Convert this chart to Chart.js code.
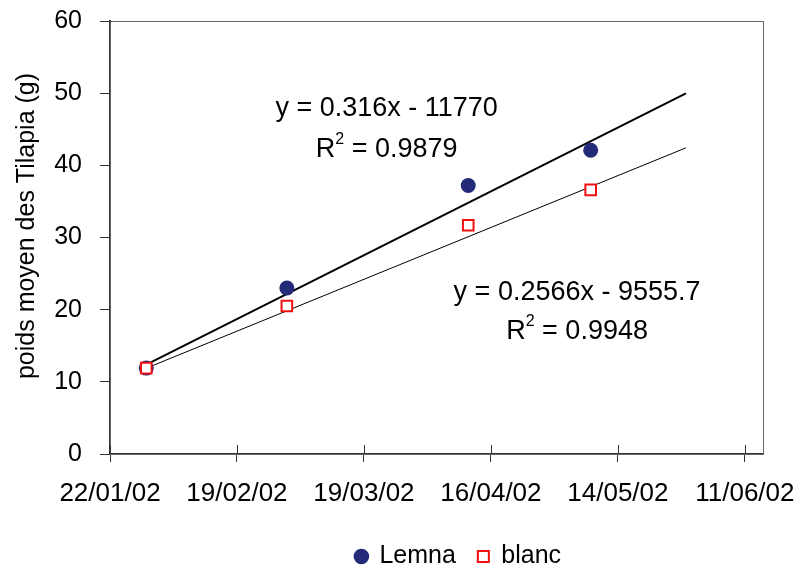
<!DOCTYPE html>
<html>
<head>
<meta charset="utf-8">
<script src="https://cdn.jsdelivr.net/npm/chart.js@4"></script>
<style>
  html, body { margin: 0; padding: 0; background: #fff; }
  #wrap { width: 802px; height: 568px; }
</style>
</head>
<body>
<div id="wrap"><canvas id="chart" width="802" height="568"></canvas></div>
<script>
// dates of the weighings (dd/mm/yy)
const dates = ['30/01/02', '02/03/02', '11/04/02', '08/05/02'];
const lemna = [11.9, 23.0, 37.2, 42.1];
const blanc = [11.9, 20.5, 31.7, 36.6];

// excel trendlines as shown on the picture
const lemnaTrend = { slope: 0.316, intercept: -11770, r2: '0.9879' };
const blancTrend = { slope: 0.2566, intercept: -9555.7, r2: '0.9948' };
const trendFrom = '30/01/02';
const trendTo = '29/05/02';

const tickLabels = ['22/01/02', '19/02/02', '19/03/02', '16/04/02', '14/05/02', '11/06/02'];
const xMin = '22/01/02';
const xMax = '15/06/02';

const FONT = '"Liberation Sans", Arial, sans-serif';

// dd/mm/yy -> excel serial number (what the trendline x is in)
function serial(s) {
    const p = s.split('/');
    return Date.UTC(2000 + parseInt(p[2]), parseInt(p[1]) - 1, parseInt(p[0])) / 86400000 + 25569;
}
function label(v) {
    const d = new Date((v - 25569) * 86400000);
    const two = n => (n < 10 ? '0' : '') + n;
    return two(d.getUTCDate()) + '/' + two(d.getUTCMonth() + 1) + '/' + two(d.getUTCFullYear() % 100);
}
function trendPoints(t) {
    return [trendFrom, trendTo].map(s => ({ x: serial(s), y: t.slope * serial(s) + t.intercept }));
}

const ctx = document.getElementById('chart').getContext('2d');

// draws the frame, the crossing x ticks, the y title and the trendline equations
const extras = {
    id: 'extras',
    afterLayout(chart) {
        // legend sits right of centre in the original
        chart.legend.left += 77;
        chart.legend.right += 77;
    },
    beforeDatasetsDraw(chart) {
        const c = chart.ctx, a = chart.chartArea, xs = chart.scales.x;
        c.save();
        c.strokeStyle = '#666';
        c.lineWidth = 1;
        c.strokeRect(a.left + 0.5, a.top + 0.5, a.right - a.left, a.bottom - a.top);
        c.strokeStyle = '#333';
        c.lineWidth = 1;
        tickLabels.forEach(t => {
            const px = Math.round(xs.getPixelForValue(serial(t))) + 0.5;
            c.beginPath();
            c.moveTo(px, a.bottom - 9);
            c.lineTo(px, a.bottom);
            c.stroke();
        });
        c.restore();
    },
    afterDatasetsDraw(chart) {
        const c = chart.ctx, xs = chart.scales.x, ys = chart.scales.y;
        c.save();
        c.fillStyle = '#000';
        c.font = '25px ' + FONT;
        c.textAlign = 'center';
        c.textBaseline = 'middle';
        c.translate(27, 226);
        c.rotate(-Math.PI / 2);
        c.fillText('poids moyen des Tilapia (g)', 0, 0);
        c.restore();

        const eq = (t, xd, y1, y2) => {
            const cx = xs.getPixelForValue(serial(xd));
            const sign = t.intercept < 0 ? ' - ' : ' + ';
            c.save();
            c.fillStyle = '#000';
            c.textBaseline = 'middle';
            c.textAlign = 'left';
            c.font = '27px ' + FONT;
            const l1 = 'y = ' + t.slope + 'x' + sign + Math.abs(t.intercept);
            const w1 = c.measureText(l1).width;
            c.fillText(l1, cx - w1 / 2, ys.getPixelForValue(y1));
            const r = 'R', rest = ' = ' + t.r2;
            const wr = c.measureText(r).width, wrest = c.measureText(rest).width;
            c.font = '16px ' + FONT;
            const wsup = c.measureText('2').width;
            const x0 = cx - (wr + wsup + wrest) / 2, yy = ys.getPixelForValue(y2);
            c.fillText('2', x0 + wr, yy - 10);
            c.font = '27px ' + FONT;
            c.fillText(r, x0, yy);
            c.fillText(rest, x0 + wr + wsup, yy);
            c.restore();
        };
        eq(lemnaTrend, '24/03/02', 47.9, 42.2);
        eq(blancTrend, '05/05/02', 22.4, 16.9);
    }
};

const chart = new Chart(ctx, {
    type: 'scatter',
    data: {
        datasets: [
            {
                label: 'Lemna',
                data: dates.map((d, i) => ({ x: serial(d), y: lemna[i] })),
                pointStyle: 'circle',
                pointRadius: 7.5,
                pointHoverRadius: 7.5,
                backgroundColor: '#232a78',
                borderColor: '#232a78',
                borderWidth: 0,
                order: 1
            },
            {
                label: 'blanc',
                data: dates.map((d, i) => ({ x: serial(d), y: blanc[i] })),
                pointStyle: 'rect',
                pointRadius: 7.5,
                pointHoverRadius: 7.5,
                backgroundColor: '#fff',
                borderColor: '#f01010',
                borderWidth: 2,
                order: 0
            },
            {
                label: 'trend Lemna',
                data: trendPoints(lemnaTrend),
                showLine: true,
                borderColor: '#000',
                borderWidth: 2,
                pointRadius: 0,
                order: 2
            },
            {
                label: 'trend blanc',
                data: trendPoints(blancTrend),
                showLine: true,
                borderColor: '#000',
                borderWidth: 1,
                pointRadius: 0,
                order: 2
            }
        ]
    },
    options: {
        responsive: false,
        animation: false,
        events: [],
        layout: { padding: { top: 21, right: 39, left: 0, bottom: -11 } },
        scales: {
            x: {
                type: 'linear',
                min: serial(xMin),
                max: serial(xMax),
                afterBuildTicks: s => { s.ticks = tickLabels.map(t => ({ value: serial(t) })); },
                afterFit: s => { s.height = 68; s.paddingLeft = 0; s.paddingRight = 0; },
                border: { color: '#333', width: 2 },
                grid: { drawOnChartArea: false, tickLength: 8, color: '#333' },
                ticks: {
                    autoSkip: false,
                    maxRotation: 0,
                    padding: 16,
                    color: '#000',
                    font: { family: FONT, size: 26 },
                    callback: v => label(v)
                }
            },
            y: {
                min: 0,
                max: 60,
                afterFit: s => { s.width = 110; s.paddingTop = 0; s.paddingBottom = 0; },
                border: { color: '#333', width: 2 },
                grid: { drawOnChartArea: false, tickLength: 10, color: '#333' },
                ticks: {
                    stepSize: 10,
                    padding: 18,
                    color: '#000',
                    font: { family: FONT, size: 25 }
                }
            }
        },
        plugins: {
            tooltip: { enabled: false },
            legend: {
                position: 'bottom',
                labels: {
                    usePointStyle: true,
                    boxHeight: 11,
                    boxWidth: 11,
                    padding: 22,
                    color: '#000',
                    font: { family: FONT, size: 25 },
                    filter: item => item.datasetIndex < 2,
                    sort: (a, b) => a.datasetIndex - b.datasetIndex
                }
            }
        }
    },
    plugins: [extras]
});
</script>
</body>
</html>
